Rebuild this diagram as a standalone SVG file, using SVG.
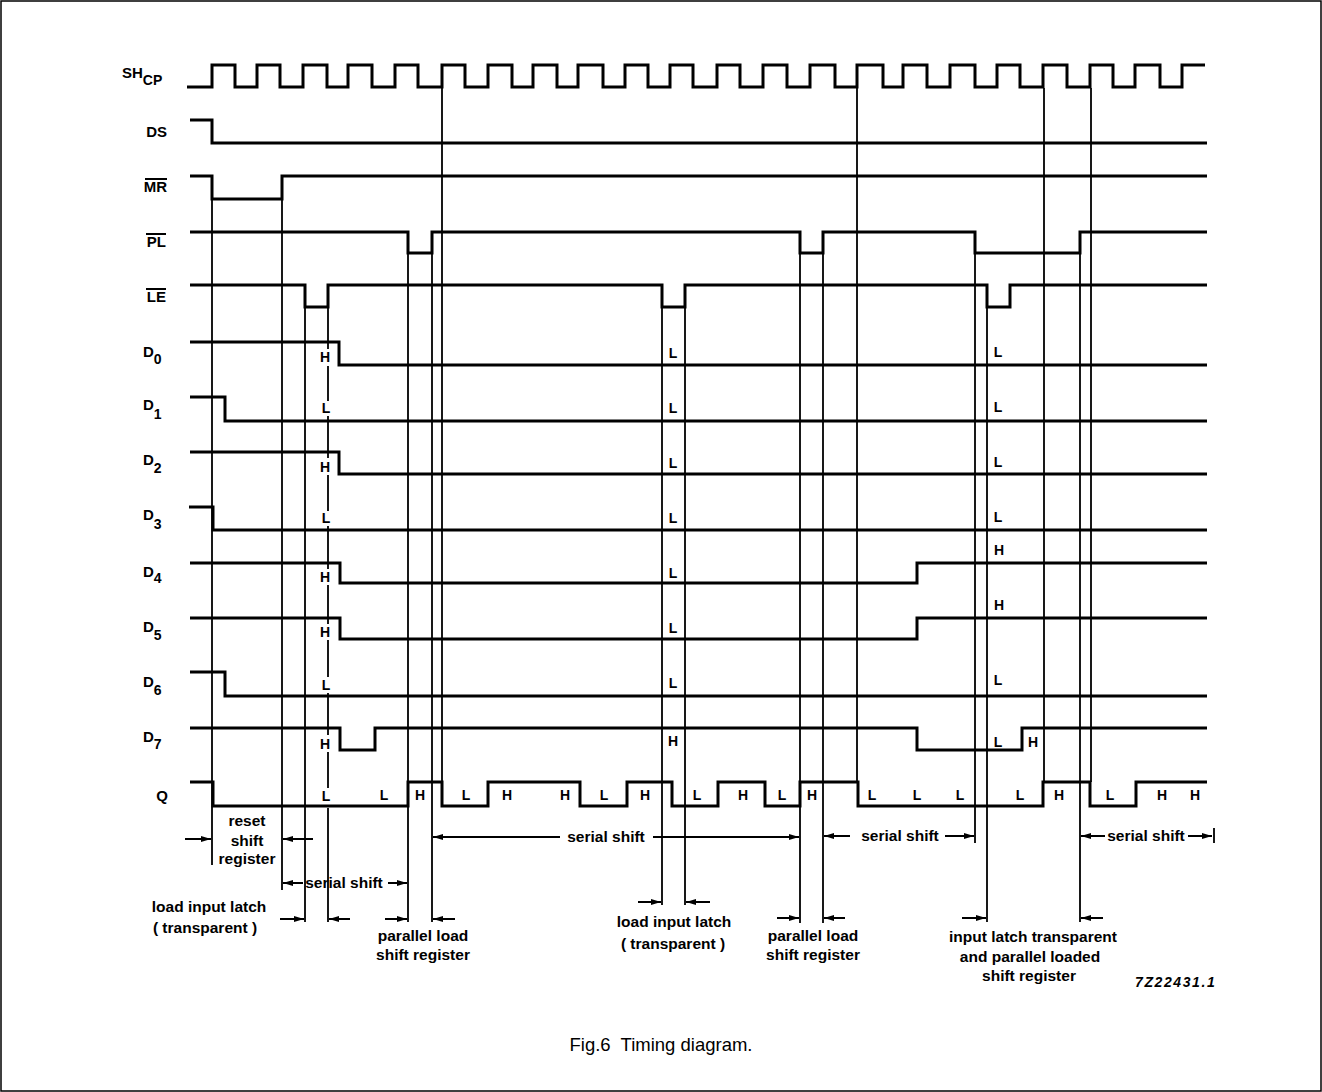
<svg xmlns="http://www.w3.org/2000/svg" width="1322" height="1092" viewBox="0 0 1322 1092">
<style>
.sig{fill:none;stroke:#000;stroke-width:3;stroke-linejoin:miter}
.ref{fill:none;stroke:#000;stroke-width:1.8}
.arr{fill:none;stroke:#000;stroke-width:2;marker-end:url(#ah)}
.nm{font-family:"Liberation Sans",Arial,sans-serif;font-weight:bold;font-size:15px;fill:#000}
.sub{font-size:14px}
.hl{font-family:"Liberation Sans",Arial,sans-serif;font-weight:bold;font-size:14px;fill:#000;text-anchor:middle}
.an{font-family:"Liberation Sans",Arial,sans-serif;font-weight:bold;font-size:15.5px;fill:#000;text-anchor:middle;white-space:pre}
.ov{stroke:#000;stroke-width:2}
</style>
<defs>
<marker id="ah" viewBox="0 0 10 6" refX="10" refY="3" markerWidth="10" markerHeight="6" markerUnits="userSpaceOnUse" orient="auto">
<path d="M0,0 L10,3 L0,6 z" fill="#000"/>
</marker>
</defs>
<rect x="1" y="1" width="1320" height="1090" fill="#fff" stroke="#000" stroke-width="1.5"/>

<g id="SHCP">
<text class="nm" x="122" y="78">SH<tspan class="sub" dy="7">CP</tspan></text>
<path class="sig" d="M187,87 H212 V65 H235 V87 H257 V65 H280 V87 H303 V65 H327 V87 H348 V65 H372 V87 H395 V65 H418 V87 H442 V65 H465 V87 H488 V65 H512 V87 H533 V65 H557 V87 H578 V65 H603 V87 H625 V65 H648 V87 H670 V65 H693 V87 H717 V65 H740 V87 H763 V65 H787 V87 H810 V65 H835 V87 H857 V65 H883 V87 H903 V65 H927 V87 H950 V65 H975 V87 H997 V65 H1020 V87 H1043 V65 H1067 V87 H1090 V65 H1113 V87 H1135 V65 H1160 V87 H1182 V65 H1205"/>
</g>
<g id="DS">
<text class="nm" x="167" y="137" text-anchor="end">DS</text>
<path class="sig" d="M190,120 H212 V143 H1207"/>
</g>
<g id="MR">
<text class="nm" x="167" y="192" text-anchor="end">MR</text>
<line class="ov" x1="145" y1="179" x2="167" y2="179"/>
<path class="sig" d="M190,176 H212 V199 H282 V176 H1207"/>
</g>
<g id="PL">
<text class="nm" x="166" y="247" text-anchor="end">PL</text>
<line class="ov" x1="146" y1="234" x2="166" y2="234"/>
<path class="sig" d="M190,232 H408 V253 H432 V232 H800 V253 H823 V232 H975 V253 H1080 V232 H1207"/>
</g>
<g id="LE">
<text class="nm" x="166" y="302" text-anchor="end">LE</text>
<line class="ov" x1="146" y1="289" x2="166" y2="289"/>
<path class="sig" d="M190,285 H305 V307 H328 V285 H662 V307 H685 V285 H987 V307 H1010 V285 H1207"/>
</g>
<g id="D0">
<text class="nm" x="143" y="357">D<tspan class="sub" dy="7">0</tspan></text>
<path class="sig" d="M190,342 H339 V365 H1207"/>
</g>
<g id="D1">
<text class="nm" x="143" y="410">D<tspan class="sub" dy="9">1</tspan></text>
<path class="sig" d="M190,397 H225 V421 H1207"/>
</g>
<g id="D2">
<text class="nm" x="143" y="465">D<tspan class="sub" dy="8">2</tspan></text>
<path class="sig" d="M190,452 H339 V474 H1207"/>
</g>
<g id="D3">
<text class="nm" x="143" y="520">D<tspan class="sub" dy="9">3</tspan></text>
<path class="sig" d="M189,507 H213 V530 H1207"/>
</g>
<g id="D4">
<text class="nm" x="143" y="577">D<tspan class="sub" dy="6">4</tspan></text>
<path class="sig" d="M190,563 H340 V583 H917 V563 H1207"/>
</g>
<g id="D5">
<text class="nm" x="143" y="632">D<tspan class="sub" dy="8">5</tspan></text>
<path class="sig" d="M190,618 H340 V639 H917 V618 H1207"/>
</g>
<g id="D6">
<text class="nm" x="143" y="687">D<tspan class="sub" dy="8">6</tspan></text>
<path class="sig" d="M190,672 H225 V696 H1207"/>
</g>
<g id="D7">
<text class="nm" x="143" y="742">D<tspan class="sub" dy="7">7</tspan></text>
<path class="sig" d="M190,728 H340 V750 H375 V728 H917 V750 H1022 V728 H1207"/>
</g>
<g id="Q">
<text class="nm" x="168" y="801" text-anchor="end">Q</text>
<path class="sig" d="M190,782 H213 V806 H408 V782 H442 V806 H488 V782 H580 V806 H627 V782 H672 V806 H718 V782 H765 V806 H800 V782 H858 V806 H1043 V782 H1090 V806 H1136 V782 H1207"/>
</g>

<g id="levels">
<text class="hl" x="325" y="362">H</text>
<text class="hl" x="326" y="413">L</text>
<text class="hl" x="325" y="472">H</text>
<text class="hl" x="326" y="523">L</text>
<text class="hl" x="325" y="582">H</text>
<text class="hl" x="325" y="637">H</text>
<text class="hl" x="326" y="690">L</text>
<text class="hl" x="325" y="749">H</text>
<text class="hl" x="326" y="801">L</text>

<text class="hl" x="673" y="358">L</text>
<text class="hl" x="673" y="413">L</text>
<text class="hl" x="673" y="468">L</text>
<text class="hl" x="673" y="523">L</text>
<text class="hl" x="673" y="578">L</text>
<text class="hl" x="673" y="633">L</text>
<text class="hl" x="673" y="688">L</text>
<text class="hl" x="673" y="746">H</text>

<text class="hl" x="998" y="357">L</text>
<text class="hl" x="998" y="412">L</text>
<text class="hl" x="998" y="467">L</text>
<text class="hl" x="998" y="522">L</text>
<text class="hl" x="999" y="555">H</text>
<text class="hl" x="999" y="610">H</text>
<text class="hl" x="998" y="685">L</text>
<text class="hl" x="998" y="747">L</text>
<text class="hl" x="1033" y="747">H</text>

<text class="hl" x="384" y="800">L</text>
<text class="hl" x="420" y="800">H</text>
<text class="hl" x="466" y="800">L</text>
<text class="hl" x="507" y="800">H</text>
<text class="hl" x="565" y="800">H</text>
<text class="hl" x="604" y="800">L</text>
<text class="hl" x="645" y="800">H</text>
<text class="hl" x="697" y="800">L</text>
<text class="hl" x="743" y="800">H</text>
<text class="hl" x="782" y="800">L</text>
<text class="hl" x="812" y="800">H</text>
<text class="hl" x="872" y="800">L</text>
<text class="hl" x="917" y="800">L</text>
<text class="hl" x="960" y="800">L</text>
<text class="hl" x="1020" y="800">L</text>
<text class="hl" x="1059" y="800">H</text>
<text class="hl" x="1110" y="800">L</text>
<text class="hl" x="1162" y="800">H</text>
<text class="hl" x="1195" y="800">H</text>
</g>

<g id="connectors">
<path class="ref" d="M212,199 V865 M282,199 V890 M305,307 V922 M408,253 V922 M432,253 V922 M442,88 V782 M662,307 V905 M685,307 V905 M800,253 V923 M823,253 V923 M857,88 V782 M975,253 V843 M987,307 V922 M1044,88 V782 M1080,253 V922 M1091,88 V782 M1214,828 V843"/>
<path class="ref" d="M328,307 V349 M328,366 V401 M328,416 V458 M328,475 V511 M328,526 V569 M328,585 V624 M328,640 V677 M328,693 V735 M328,752 V788 M328,808 V922"/>
<line class="arr" x1="185" y1="839" x2="211" y2="839"/>
<line class="arr" x1="313" y1="839" x2="283" y2="839"/>
<line class="arr" x1="303" y1="883" x2="283" y2="883"/>
<line class="arr" x1="388" y1="883" x2="407" y2="883"/>
<line class="arr" x1="280" y1="919" x2="304" y2="919"/>
<line class="arr" x1="350" y1="919" x2="329" y2="919"/>
<line class="arr" x1="385" y1="919" x2="407" y2="919"/>
<line class="arr" x1="455" y1="919" x2="433" y2="919"/>
<line class="arr" x1="560" y1="837" x2="433" y2="837"/>
<line class="arr" x1="653" y1="837" x2="799" y2="837"/>
<line class="arr" x1="638" y1="902" x2="661" y2="902"/>
<line class="arr" x1="710" y1="902" x2="686" y2="902"/>
<line class="arr" x1="777" y1="918" x2="799" y2="918"/>
<line class="arr" x1="845" y1="918" x2="824" y2="918"/>
<line class="arr" x1="850" y1="836" x2="824" y2="836"/>
<line class="arr" x1="945" y1="836" x2="974" y2="836"/>
<line class="arr" x1="1105" y1="836" x2="1081" y2="836"/>
<line class="arr" x1="1188" y1="836" x2="1212" y2="836"/>
<line class="arr" x1="962" y1="918" x2="986" y2="918"/>
<line class="arr" x1="1103" y1="918" x2="1081" y2="918"/>
</g>

<g id="annotations">
<text class="an" x="247" y="826">reset</text>
<text class="an" x="247" y="846">shift</text>
<text class="an" x="247" y="864">register</text>
<text class="an" x="344" y="888">serial shift</text>
<text class="an" x="209" y="912">load input latch</text>
<text class="an" x="205" y="933">( transparent )</text>
<text class="an" x="423" y="941">parallel load</text>
<text class="an" x="423" y="960">shift register</text>
<text class="an" x="606" y="842">serial shift</text>
<text class="an" x="674" y="927">load input latch</text>
<text class="an" x="673" y="949">( transparent )</text>
<text class="an" x="813" y="941">parallel load</text>
<text class="an" x="813" y="960">shift register</text>
<text class="an" x="900" y="841">serial shift</text>
<text class="an" x="1146" y="841">serial shift</text>
<text class="an" x="1033" y="942">input latch transparent</text>
<text class="an" x="1030" y="962">and parallel loaded</text>
<text class="an" x="1029" y="981">shift register</text>
<text x="1135" y="987" style="font-family:'Liberation Sans',Arial,sans-serif;font-weight:bold;font-style:italic;font-size:14px;letter-spacing:1.6px">7Z22431.1</text>
</g>

<text x="661" y="1051" style="font-family:'Liberation Sans',Arial,sans-serif;font-size:18.5px;text-anchor:middle;white-space:pre">Fig.6  Timing diagram.</text>
</svg>
